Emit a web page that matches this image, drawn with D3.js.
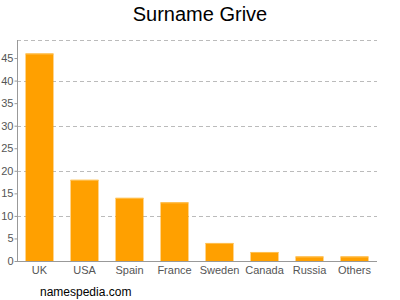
<!DOCTYPE html>
<html>
<head>
<meta charset="utf-8">
<script src="https://cdn.jsdelivr.net/npm/d3@7"></script>
<style>
  body { margin: 0; background: #fff; }
  svg { display: block; font-family: "Liberation Sans", Arial, sans-serif; }
</style>
</head>
<body>
<svg id="SVG_CONTAINER" width="400" height="300"></svg>
<script>
const countries = ["UK", "USA", "Spain", "France", "Sweden", "Canada", "Russia", "Others"];
const counts = [46, 18, 14, 13, 4, 2, 1, 1];
const yTicks = [0, 5, 10, 15, 20, 25, 30, 35, 40, 45];
const gridValues = [10, 20, 30, 40, 49];

const MARGIN = { LEFT: 17, RIGHT: 23, TOP: 40, BOTTOM: 39 };
const width = 400, height = 300;

let svg = d3.select("#SVG_CONTAINER");

let xScale = d3.scaleBand()
    .domain(countries)
    .range([MARGIN.LEFT, width - MARGIN.RIGHT])
    .paddingInner(0.38)
    .paddingOuter(0.19);

let yScale = d3.scaleLinear()
    .domain([0, 49])
    .range([height - MARGIN.BOTTOM, MARGIN.TOP]);

// title
svg.append("text")
    .attr("x", width / 2)
    .attr("y", 21)
    .attr("text-anchor", "middle")
    .style("font-size", "20px")
    .style("fill", "#000")
    .text("Surname Grive");

// grid lines
svg.append("g").attr("class", "grid")
    .selectAll("line")
    .data(gridValues)
    .enter()
    .append("line")
    .attr("x1", MARGIN.LEFT)
    .attr("x2", width - MARGIN.RIGHT)
    .attr("y1", d => Math.round(yScale(d)) + 0.5)
    .attr("y2", d => Math.round(yScale(d)) + 0.5)
    .attr("stroke", "#bbb")
    .attr("stroke-dasharray", "4,3");

// bars
let bars = svg.append("g").attr("class", "bars");
bars.selectAll("rect")
    .data(countries)
    .enter()
    .append("rect")
    .attr("x", d => xScale(d))
    .attr("y", (d, i) => yScale(counts[i]))
    .attr("width", xScale.bandwidth())
    .attr("height", (d, i) => yScale(0) - yScale(counts[i]))
    .attr("fill", "#ffa000");

// lighter top edge on each bar
bars.selectAll("line")
    .data(countries)
    .enter()
    .append("line")
    .attr("x1", d => xScale(d))
    .attr("x2", d => xScale(d) + xScale.bandwidth())
    .attr("y1", (d, i) => yScale(counts[i]) + 0.5)
    .attr("y2", (d, i) => yScale(counts[i]) + 0.5)
    .attr("stroke", "#ffc050");

// y axis
let yAxis = d3.axisLeft(yScale)
    .tickValues(yTicks)
    .tickSize(3)
    .tickPadding(1);

let yG = svg.append("g")
    .attr("class", "y_axis")
    .attr("transform", "translate(" + (MARGIN.LEFT + 0.5) + ",0)")
    .call(yAxis);
yG.select(".domain").attr("stroke", "#999").attr("d", "M0," + MARGIN.TOP + "V" + (height - MARGIN.BOTTOM));
yG.selectAll(".tick line").attr("stroke", "#999");
yG.selectAll("text").style("font-size", "11px").style("fill", "#555").attr("font-family", null);

// x axis
let xAxis = d3.axisBottom(xScale).tickSize(0).tickPadding(5);
let xG = svg.append("g")
    .attr("class", "x_axis")
    .attr("transform", "translate(0," + (height - MARGIN.BOTTOM + 0.5) + ")")
    .call(xAxis);
xG.select(".domain").attr("stroke", "#999").attr("d", "M" + MARGIN.LEFT + ",0H" + (width - MARGIN.RIGHT));
xG.selectAll("text").style("font-size", "11px").style("fill", "#555").attr("font-family", null);

// footer
svg.append("text")
    .attr("x", 40)
    .attr("y", 296)
    .style("font-size", "12px")
    .style("fill", "#000")
    .text("namespedia.com");
</script>
</body>
</html>
